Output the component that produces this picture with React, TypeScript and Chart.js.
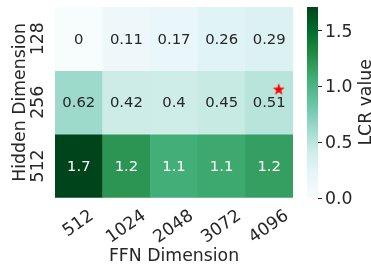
import { useEffect, useRef } from 'react';
import { Chart, registerables } from 'chart.js';

Chart.register(...registerables);

// ---- data ----
const ffnLabels = ['512', '1024', '2048', '3072', '4096'];
const hiddenLabels = ['128', '256', '512'];
const row128 = [0, 0.11, 0.17, 0.26, 0.29];
const row256 = [0.62, 0.42, 0.4, 0.45, 0.51];
const row512 = [1.71, 1.22, 1.06, 1.1, 1.16];
const rows = [row128, row256, row512];
const colorbarTicks = [0, 0.5, 1.0, 1.5];
const vmin = 0;
const vmax = 1.71;
const starPoint = [{ x: 4.2, y: 0.8 }];
const xTitle = 'FFN Dimension';
const yTitle = 'Hidden Dimension';
const cbarTitle = 'LCR value';

// BuGn colormap stops
const BUGN = ['#f7fcfd', '#e5f5f9', '#ccece6', '#99d8c9', '#66c2a4', '#41ae76', '#238b45', '#006d2c', '#00441b'];
const hex = (h: string) => [parseInt(h.slice(1, 3), 16), parseInt(h.slice(3, 5), 16), parseInt(h.slice(5, 7), 16)];
const STOPS = BUGN.map(hex);
function cmapRGB(v: number): number[] {
  let t = (v - vmin) / (vmax - vmin);
  t = Math.max(0, Math.min(1, t));
  const p = t * (STOPS.length - 1);
  const i = Math.min(STOPS.length - 2, Math.floor(p));
  const f = p - i;
  return [0, 1, 2].map((k) => Math.round(STOPS[i][k] + (STOPS[i + 1][k] - STOPS[i][k]) * f));
}
const rgbStr = (c: number[]) => `rgb(${c[0]},${c[1]},${c[2]})`;
function luminance(c: number[]) {
  const lin = c.map((x) => {
    const s = x / 255;
    return s <= 0.03928 ? s / 12.92 : Math.pow((s + 0.055) / 1.055, 2.4);
  });
  return 0.2126 * lin[0] + 0.7152 * lin[1] + 0.0722 * lin[2];
}
const fmt2g = (v: number) => String(parseFloat(v.toPrecision(2)));

const FONT = "'DejaVu Sans', sans-serif";
const TEXT = '#262626';
const LABEL_FS = 17.3;
const ANNOT_FS = 14.8;
const STAR_INDEX = 0;

function makeStar(): HTMLCanvasElement {
  const c = document.createElement('canvas');
  const size = 14;
  c.width = size;
  c.height = size;
  const g = c.getContext('2d')!;
  const R = 5.4;
  const r = R * 0.381966;
  const cx = size / 2;
  const cy = size / 2;
  g.beginPath();
  for (let k = 0; k < 10; k++) {
    const rad = k % 2 === 0 ? R : r;
    const a = -Math.PI / 2 + (k * Math.PI) / 5;
    const px = cx + rad * Math.cos(a);
    const py = cy + rad * Math.sin(a);
    if (k === 0) g.moveTo(px, py);
    else g.lineTo(px, py);
  }
  g.closePath();
  g.fillStyle = '#ff0000';
  g.fill();
  g.strokeStyle = '#ff0000';
  g.lineWidth = 0.8;
  g.stroke();
  return c;
}

const heatPlugin = {
  id: 'heatDecor',
  beforeDatasetDraw(chart: any, args: any) {
    if (args.index !== STAR_INDEX) return;
    const { ctx, scales } = chart;
    const xs = scales.x;
    const ys = scales.y;
    ctx.save();
    ctx.font = `${ANNOT_FS}px ${FONT}`;
    ctx.textAlign = 'center';
    ctx.textBaseline = 'alphabetic';
    rows.forEach((row, i) => {
      row.forEach((v, j) => {
        const c = cmapRGB(v);
        ctx.fillStyle = luminance(c) < 0.408 ? '#ffffff' : TEXT;
        const px = xs.getPixelForValue(j);
        const py = ys.getPixelForValue(i);
        ctx.fillText(fmt2g(v), px, py + 5);
      });
    });
    ctx.restore();
  },
  afterDraw(chart: any) {
    const { ctx, scales, chartArea } = chart;
    const xs = scales.x;
    const ys = scales.y;
    const cs = scales.cbar;
    ctx.save();
    ctx.fillStyle = TEXT;
    ctx.font = `${LABEL_FS}px ${FONT}`;
    const capH = 0.729 * LABEL_FS;

    // x tick labels, rotated 35deg, bbox-centred
    const th = (35 * Math.PI) / 180;
    ffnLabels.forEach((lab, j) => {
      const w = ctx.measureText(lab).width;
      const H = w * Math.sin(th) + capH * Math.cos(th);
      const cx = xs.getPixelForValue(j) - 1.3;
      const cy = chartArea.bottom + 10 + H / 2;
      ctx.save();
      ctx.translate(cx, cy);
      ctx.rotate(-th);
      ctx.textAlign = 'center';
      ctx.textBaseline = 'alphabetic';
      ctx.fillText(lab, 0, capH / 2);
      ctx.restore();
    });

    // y tick labels, vertical
    hiddenLabels.forEach((lab, i) => {
      const py = ys.getPixelForValue(i);
      ctx.save();
      ctx.translate(chartArea.left - 12, py);
      ctx.rotate(-Math.PI / 2);
      ctx.textAlign = 'center';
      ctx.textBaseline = 'alphabetic';
      ctx.fillText(lab, 0, 0);
      ctx.restore();
    });

    // axis titles
    ctx.textAlign = 'center';
    ctx.textBaseline = 'alphabetic';
    ctx.fillText(xTitle, (chartArea.left + chartArea.right) / 2, 260.7);
    ctx.save();
    ctx.translate(24.5, (chartArea.top + chartArea.bottom) / 2);
    ctx.rotate(-Math.PI / 2);
    ctx.fillText(yTitle, 0, 0);
    ctx.restore();

    // colorbar
    const cbL = 307;
    const cbR = 318;
    const yTop = cs.getPixelForValue(vmax);
    const yBot = cs.getPixelForValue(vmin);
    const grad = ctx.createLinearGradient(0, yBot, 0, yTop);
    STOPS.forEach((c, k) => grad.addColorStop(k / (STOPS.length - 1), rgbStr(c)));
    ctx.fillStyle = grad;
    ctx.fillRect(cbL, yTop, cbR - cbL, yBot - yTop);

    ctx.strokeStyle = TEXT;
    ctx.lineWidth = 1;
    ctx.fillStyle = TEXT;
    ctx.textAlign = 'left';
    ctx.textBaseline = 'alphabetic';
    colorbarTicks.forEach((v) => {
      const py = Math.round(cs.getPixelForValue(v)) + 0.5;
      ctx.beginPath();
      ctx.moveTo(cbR, py);
      ctx.lineTo(cbR + 4, py);
      ctx.stroke();
      ctx.fillText(v.toFixed(1), 325, cs.getPixelForValue(v) + capH / 2);
    });

    ctx.save();
    ctx.translate(370.5, (yTop + yBot) / 2);
    ctx.rotate(-Math.PI / 2);
    ctx.textAlign = 'center';
    ctx.fillText(cbarTitle, 0, 0);
    ctx.restore();

    ctx.restore();
  },
};

export default function App() {
  const ref = useRef<HTMLCanvasElement | null>(null);
  useEffect(() => {
    if (!ref.current) return;
    const star = makeStar();
    const barSets = rows.map((row, i) => ({
      type: 'bar' as const,
      label: hiddenLabels[i],
      data: row.map((_, j) => ({ x: j, y: [i - 0.5, i + 0.5] })),
      backgroundColor: row.map((v) => rgbStr(cmapRGB(v))),
      borderWidth: 0,
      barPercentage: 1,
      categoryPercentage: 1,
      grouped: false,
      order: 1,
    }));
    const chart = new Chart(ref.current, {
      type: 'bar',
      data: {
        datasets: [
          {
            type: 'scatter' as const,
            label: 'best',
            data: starPoint,
            pointStyle: star,
            pointRadius: 6,
            order: 0,
          } as any,
          ...barSets,
        ],
      },
      options: {
        animation: false,
        responsive: false,
        maintainAspectRatio: false,
        layout: { padding: { left: 55, right: 78, top: 3.5, bottom: 68.3 } },
        plugins: { legend: { display: false }, tooltip: { enabled: false } },
        scales: {
          x: { type: 'linear', min: -0.5, max: 4.5, display: false, offset: false },
          y: { type: 'linear', min: -0.5, max: 2.5, reverse: true, display: false },
          cbar: { type: 'linear', position: 'right', min: vmin, max: vmax, display: false },
        },
      } as any,
      plugins: [heatPlugin],
    });
    return () => chart.destroy();
  }, []);
  return (
    <div style={{ position: 'absolute', left: 0, top: 0, width: 371, height: 266 }}>
      <canvas ref={ref} width={371} height={266} style={{ width: 371, height: 266 }} />
    </div>
  );
}
